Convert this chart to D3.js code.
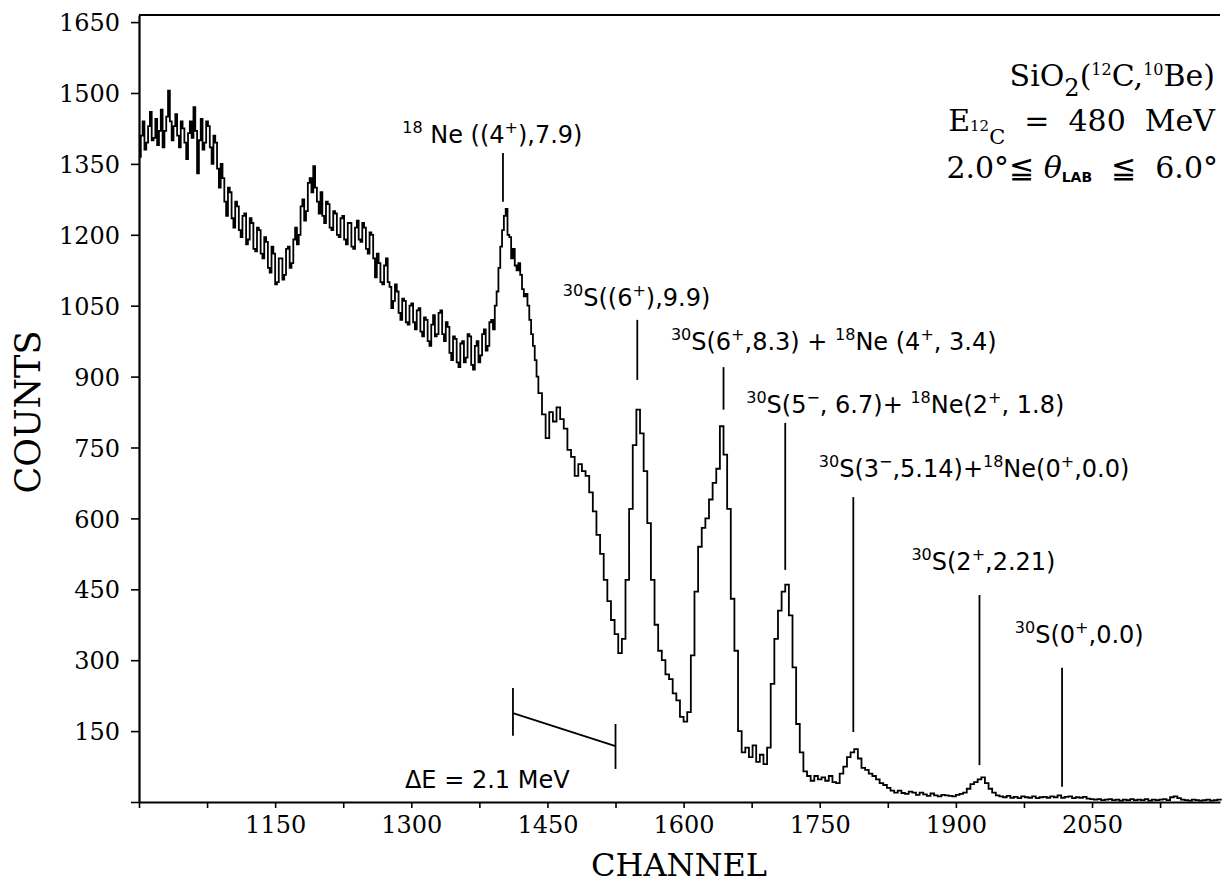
<!DOCTYPE html>
<html>
<head>
<meta charset="utf-8">
<script src="https://cdn.jsdelivr.net/npm/d3@7"></script>
<style>
  body { margin: 0; background: #fff; }
  svg { display: block; }
  .tick text { font-family: 'DejaVu Serif', serif; font-size: 24px; fill: #000; }
  .lbl { font-family: 'DejaVu Sans', sans-serif; font-size: 24px; fill: #000; }
</style>
</head>
<body>
<svg id="chart"></svg>
<script>
// spectrum part A: channels 1000..1438, one value every 2 channels
const startA = 1000
const stepA = 2
const countsA = [
  1365, 1410, 1440, 1380, 1395, 1430, 1460, 1400, 1405, 1445, 1390, 1420, 1465, 1385, 1420, 1450, 1505, 1440, 1400, 1430, 1455, 1410, 1385, 1440, 1425,
  1395, 1360, 1415, 1440, 1405, 1470, 1420, 1330, 1400, 1445, 1380, 1395, 1440, 1430, 1385, 1350, 1410, 1395, 1340, 1300, 1350, 1320, 1270, 1240, 1300,
  1290, 1235, 1215, 1270, 1260, 1210, 1195, 1240, 1245, 1180, 1190, 1235, 1225, 1170, 1165, 1215, 1210, 1160, 1150, 1195, 1185, 1130, 1120, 1175, 1160,
  1095, 1100, 1150, 1150, 1105, 1115, 1170, 1175, 1130, 1140, 1190, 1215, 1180, 1200, 1260, 1275, 1230, 1250, 1310, 1320, 1290, 1345, 1300, 1270, 1245,
  1290, 1240, 1225, 1270, 1265, 1215, 1210, 1250, 1245, 1200, 1195, 1235, 1240, 1190, 1180, 1225, 1225, 1175, 1170, 1215, 1230, 1190, 1185, 1225, 1215,
  1170, 1160, 1205, 1200, 1150, 1110, 1160, 1140, 1100, 1095, 1135, 1150, 1100, 1090, 1045, 1060, 1095, 1080, 1035, 1020, 1065, 1060, 1015, 1010, 1050,
  1055, 1015, 1000, 1040, 1045, 995, 985, 1025, 1020, 975, 965, 1010, 1030, 985, 990, 1035, 1040, 990, 975, 1015, 1005, 950, 935, 985, 980,
  930, 920, 970, 975, 930, 940, 990, 985, 925, 915, 965, 975, 930, 945, 990, 1000, 955, 965, 1015, 1020, 1000, 1050, 1080, 1130, 1175,
  1210, 1240, 1255, 1200, 1195, 1150, 1170, 1135, 1125, 1140, 1115, 1085, 1070, 1075, 1050, 1020, 990, 965, 935, 900
]
// spectrum part B: channels 1440..2192, one value every 4 channels
const startB = 1440
const stepB = 4
const countsB = [
  865, 820, 770, 825, 805, 835, 810, 790, 745, 730, 690, 715, 700, 690, 655,
  615, 565, 525, 470, 425, 385, 355, 315, 345, 470, 620, 755, 830, 780, 700, 590, 470, 375, 320, 300, 270, 260, 230, 215, 180,
  170, 190, 310, 445, 540, 580, 600, 640, 675, 705, 795, 735, 620, 430, 320, 150, 105, 115, 95, 120, 85, 100, 80, 115, 250,
  345, 405, 445, 460, 395, 285, 165, 105, 65, 55, 45, 55, 48, 52, 45, 55, 42, 40, 60, 75, 95, 105, 112, 92, 72,
  68, 60, 55, 48, 40, 36, 30, 24, 20, 24, 19, 17, 22, 20, 15, 20, 16, 13, 18, 14, 12, 15, 14, 13, 12,
  15, 17, 20, 28, 38, 42, 48, 52, 40, 28, 20, 14, 12, 10, 13, 9, 11, 8, 12, 10, 9, 12, 8, 10, 11,
  9, 12, 10, 14, 9, 11, 12, 8, 10, 9, 11, 7, 6, 5, 6, 4, 5, 6, 4, 5, 3, 5, 4, 6, 4,
  5, 4, 6, 3, 5, 4, 5, 6, 4, 10, 12, 8, 5, 4, 3, 5, 4, 3, 4, 5, 3, 4, 5, 3
]

const xMajor = [1150, 1300, 1450, 1600, 1750, 1900, 2050]
const xMinor = [1000, 1075, 1225, 1375, 1525, 1675, 1825, 1975, 2125]
const yTickVals = [0, 150, 300, 450, 600, 750, 900, 1050, 1200, 1350, 1500, 1650]

// peak labels: text pieces ['sup'|'n', text], text anchor [channel, count], marker line [channel, top, bottom]
const peakLabels = [
  [['sup', '18'], ['n', ' Ne ((4'], ['sup', '+'], ['n', '),7.9)']],
  [['sup', '30'], ['n', 'S((6'], ['sup', '+'], ['n', '),9.9)']],
  [['sup', '30'], ['n', 'S(6'], ['sup', '+'], ['n', ',8.3) + '], ['sup', '18'], ['n', 'Ne (4'], ['sup', '+'], ['n', ', 3.4)']],
  [['sup', '30'], ['n', 'S(5'], ['sup', '\u2212'], ['n', ', 6.7)+ '], ['sup', '18'], ['n', 'Ne(2'], ['sup', '+'], ['n', ', 1.8)']],
  [['sup', '30'], ['n', 'S(3'], ['sup', '\u2212'], ['n', ',5.14)+'], ['sup', '18'], ['n', 'Ne(0'], ['sup', '+'], ['n', ',0.0)']],
  [['sup', '30'], ['n', 'S(2'], ['sup', '+'], ['n', ',2.21)']],
  [['sup', '30'], ['n', 'S(0'], ['sup', '+'], ['n', ',0.0)']]
]
const labelAnchor = [[1290, 1394], [1467, 1050], [1586, 956], [1669, 823], [1749, 688], [1851, 491], [1965, 336]]
const markerLines = [[1401, 1373, 1270], [1549, 1020, 893], [1644, 920, 830], [1712, 802, 491], [1787, 645, 148], [1926, 438, 78], [2017, 284, 32]]

// energy-scale bracket
const dE = { left: 1412, right: 1525, leftSpan: [241, 140], rightSpan: [165, 70], slope: [188, 118], text: [1293, 30] }

const width = 1223, height = 883
const svg = d3.select('#chart').attr('width', width).attr('height', height)

const x = d3.scaleLinear().domain([1000, 2191]).range([139, 1220])
const y = d3.scaleLinear().domain([0, 1665]).range([802, 15])

// axes
const xAxis = d3.axisBottom(x)
  .tickValues(xMajor.concat(xMinor))
  .tickFormat(d => xMajor.includes(d) ? d : '')
  .tickSize(6).tickSizeOuter(0).tickPadding(8)
const gx = svg.append('g').attr('transform', 'translate(0,802)').call(xAxis)
gx.select('.domain').attr('stroke-width', 2.2)
gx.selectAll('.tick line').attr('stroke-width', 1.6)

const yAxis = d3.axisLeft(y)
  .tickValues(yTickVals)
  .tickFormat(d => d === 0 ? '' : d)
  .tickSize(8).tickSizeOuter(0).tickPadding(11)
const gy = svg.append('g').attr('transform', 'translate(139,0)').call(yAxis)
gy.select('.domain').attr('stroke-width', 2.2)
gy.selectAll('.tick line').attr('stroke-width', 1.6)
gy.selectAll('.tick text').attr('dy', '0.36em')

// top frame line
svg.append('line')
  .attr('x1', x(1000)).attr('x2', x(2191))
  .attr('y1', y(1665)).attr('y2', y(1665))
  .attr('stroke', '#000').attr('stroke-width', 1.8)

// axis titles
svg.append('text')
  .attr('transform', `translate(40,${y(825)}) rotate(-90)`)
  .attr('text-anchor', 'middle')
  .style('font-family', "'DejaVu Serif', serif").style('font-size', '35px')
  .text('COUNTS')

svg.append('text')
  .attr('x', x(1595)).attr('y', 876)
  .attr('text-anchor', 'middle')
  .style('font-family', "'DejaVu Serif', serif").style('font-size', '32px')
  .text('CHANNEL')

// spectrum
const spectrum = countsA.map((c, i) => [startA + i * stepA, c])
  .concat(countsB.map((c, i) => [startB + i * stepB, c]))

const line = d3.line()
  .x(d => x(d[0]))
  .y(d => y(d[1]))
  .curve(d3.curveStepAfter)

svg.append('path')
  .datum(spectrum)
  .attr('d', line)
  .attr('fill', 'none')
  .attr('stroke', '#000')
  .attr('stroke-width', 1.8)

// peak markers
svg.selectAll('.marker')
  .data(markerLines).enter().append('line')
  .attr('class', 'marker')
  .attr('x1', d => x(d[0])).attr('x2', d => x(d[0]))
  .attr('y1', d => y(d[1])).attr('y2', d => y(d[2]))
  .attr('stroke', '#000').attr('stroke-width', 1.8)

// peak labels
peakLabels.forEach((parts, i) => {
  const t = svg.append('text').attr('class', 'lbl')
    .attr('x', x(labelAnchor[i][0])).attr('y', y(labelAnchor[i][1]))
  let raised = false
  parts.forEach(p => {
    const s = t.append('tspan').text(p[1])
    if (p[0] === 'sup') {
      s.style('font-size', '16px').attr('dy', raised ? 0 : -10)
      raised = true
    } else {
      s.attr('dy', raised ? 10 : 0)
      raised = false
    }
  })
})

// delta E bracket
const br = svg.append('g').attr('stroke', '#000').attr('stroke-width', 1.8)
br.append('line').attr('x1', x(dE.left)).attr('x2', x(dE.left)).attr('y1', y(dE.leftSpan[0])).attr('y2', y(dE.leftSpan[1]))
br.append('line').attr('x1', x(dE.right)).attr('x2', x(dE.right)).attr('y1', y(dE.rightSpan[0])).attr('y2', y(dE.rightSpan[1]))
br.append('line').attr('x1', x(dE.left)).attr('x2', x(dE.right)).attr('y1', y(dE.slope[0])).attr('y2', y(dE.slope[1]))
svg.append('text').attr('class', 'lbl')
  .attr('x', x(dE.text[0])).attr('y', y(dE.text[1]))
  .text('\u0394E = 2.1 MeV')

// reaction info, top right
const nb = '\u00a0'
const info = svg.append('g')
  .style('font-family', "'DejaVu Serif', serif").style('font-size', '30px')
  .attr('text-anchor', 'end')

const l1 = info.append('text').attr('x', 1215).attr('y', 86)
l1.append('tspan').text('SiO')
l1.append('tspan').text('2').attr('dy', 10).style('font-size', '24px')
l1.append('tspan').text('(').attr('dy', -10)
l1.append('tspan').text('12').attr('dy', -11).style('font-size', '16px')
l1.append('tspan').text('C,').attr('dy', 11)
l1.append('tspan').text('10').attr('dy', -11).style('font-size', '16px')
l1.append('tspan').text('Be)').attr('dy', 11)

const l2 = info.append('text').attr('x', 1215).attr('y', 131)
l2.append('tspan').text('E')
l2.append('tspan').text('12').attr('dy', 0).style('font-size', '15px')
l2.append('tspan').text('C').attr('dy', 13).style('font-size', '21px')
l2.append('tspan').text(`${nb}${nb}=${nb}${nb}480${nb}${nb}MeV`).attr('dy', -13)

const l3 = info.append('text').attr('x', 1218).attr('y', 178)
l3.append('tspan').text(`2.0\u00b0\u2266${nb}`)
l3.append('tspan').text('\u03b8').style('font-style', 'italic')
l3.append('tspan').text('LAB').attr('dy', 4)
  .style('font-size', '14px').style('font-weight', 'bold').style('font-family', "'DejaVu Sans', sans-serif")
l3.append('tspan').text(`${nb}${nb}\u2266${nb}${nb}6.0\u00b0`).attr('dy', -4)
</script>
</body>
</html>
